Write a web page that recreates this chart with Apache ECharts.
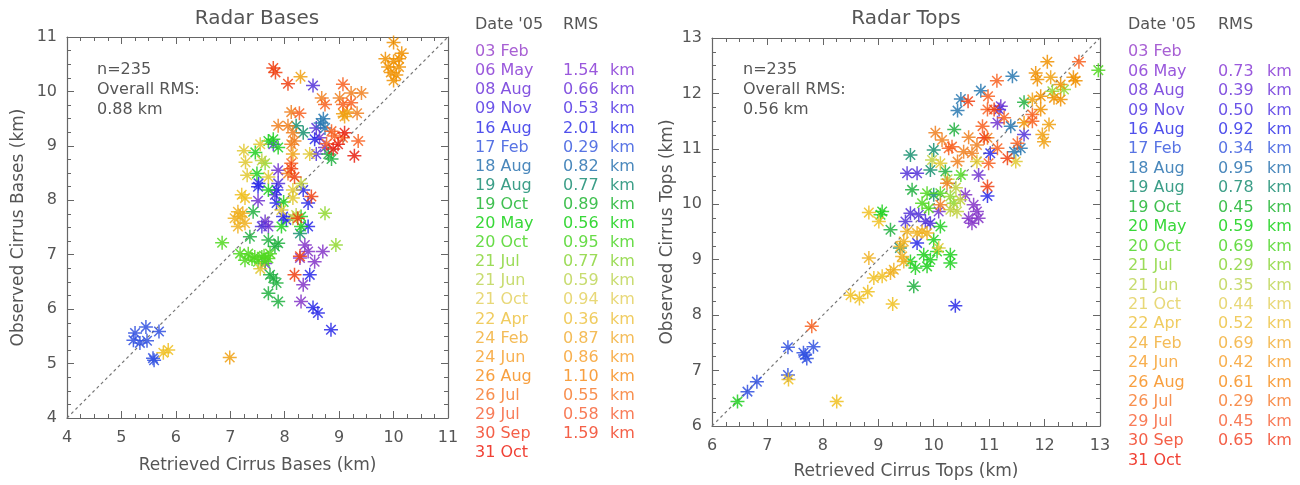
<!DOCTYPE html>
<html><head><meta charset="utf-8">
<script src="https://cdn.jsdelivr.net/npm/echarts@6/dist/echarts.min.js"></script>
<style>html,body{margin:0;padding:0;background:#fff}#c{width:1300px;height:485px}</style>
</head><body><div id="c"></div>
<script>
// ---------- DATA ----------
const dates = ['03 Feb','06 May','08 Aug','09 Nov','16 Aug','17 Feb','18 Aug','19 Aug','19 Oct','20 May','20 Oct','21 Jul','21 Jun','21 Oct','22 Apr','24 Feb','24 Jun','26 Aug','26 Jul','29 Jul','30 Sep','31 Oct'];
const rmsBases = ['','1.54','0.66','0.53','2.01','0.29','0.82','0.77','0.89','0.56','0.95','0.77','0.59','0.94','0.36','0.87','0.86','1.10','0.55','0.58','1.59',''];
const rmsTops  = ['','0.73','0.39','0.50','0.92','0.34','0.95','0.78','0.45','0.59','0.69','0.29','0.35','0.44','0.52','0.69','0.42','0.61','0.29','0.45','0.65',''];
const basesTicks = [4,5,6,7,8,9,10,11];
const topsTicks = [6,7,8,9,10,11,12,13];

// Radar Bases: [retrieved, observed] per date
const B_03Feb = [];
const B_06May = [[8.37,7.18],[8.43,7.06],[8.70,7.06],[8.55,6.87],[8.28,6.94],[8.34,6.45],[8.30,6.14]];
const B_08Aug = [[8.64,9.15],[8.74,8.97],[7.88,8.55],[7.51,7.99],[7.64,7.61],[7.70,7.52],[7.64,6.84]];
const B_09Nov = [[8.52,10.11],[8.58,9.33],[8.58,8.85],[7.79,9.03],[7.88,8.31],[7.82,8.10],[7.58,7.52]];
const B_16Aug = [[8.85,5.62],[8.61,5.93],[8.52,6.03],[8.46,6.63],[8.55,9.12],[7.52,8.31],[7.51,8.25],[7.85,8.19],[8.34,8.19],[8.43,7.95],[7.85,7.95],[7.97,7.70],[8.03,7.64],[8.43,7.52]];
const B_17Feb = [[5.25,5.56],[5.45,5.67],[5.69,5.59],[5.22,5.43],[5.34,5.38],[5.47,5.42],[5.60,5.06],[5.58,5.10]];
const B_18Aug = [[8.71,9.50],[8.74,9.33],[8.66,9.42]];
const B_19Aug = [[8.34,9.24],[8.21,9.37],[8.28,7.39]];
const B_19Oct = [[7.36,7.33],[7.70,7.27],[7.88,7.21],[7.82,7.15],[7.42,7.79],[7.73,6.63],[7.79,6.57],[7.85,6.48],[7.70,6.29],[7.88,6.14],[8.86,8.76],[8.80,8.85]];
const B_20May = [[7.79,9.12],[7.88,8.97],[7.70,9.09],[7.46,8.88],[7.49,8.49],[7.70,8.19],[7.98,7.97],[8.30,7.70],[8.30,7.52],[7.94,7.52]];
const B_20Oct = [[6.85,7.22],[7.18,7.02],[7.33,7.02],[7.27,6.90],[7.45,6.96],[7.58,6.96],[7.70,6.93],[7.73,7.02],[7.64,6.87],[7.51,6.87],[7.40,6.92],[7.62,6.98]];
const B_21Jul = [[7.64,8.68],[8.74,7.76],[8.94,7.18]];
const B_21Jun = [[7.58,8.73],[8.30,8.31],[8.15,7.67],[8.21,7.73]];
const B_21Oct = [[7.25,8.91],[7.28,8.70],[7.55,9.03],[7.31,8.46],[7.70,8.43],[8.15,8.19],[8.15,8.04],[8.46,8.85],[7.94,7.82],[7.55,6.74]];
const B_22Apr = [[5.77,5.20],[5.86,5.25],[7.21,8.10],[7.27,8.04]];
const B_24Feb = [[7.14,7.79],[7.23,7.76],[7.08,7.67],[7.27,7.58],[7.14,7.52],[7.18,7.70]];
const B_24Jun = [[8.29,10.27],[9.07,9.59],[9.10,9.54],[8.15,8.85],[6.99,5.11],[9.15,9.62]];
const B_26Aug = [[10.00,10.90],[10.15,10.70],[9.85,10.60],[10.00,10.55],[10.10,10.45],[9.95,10.35],[10.05,10.30],[10.00,10.20],[9.90,10.45],[10.10,10.60]];
const B_26Jul = [[9.22,9.97],[9.41,9.97],[9.01,9.88],[8.68,9.88],[9.33,9.60],[8.12,9.62],[7.88,9.37],[8.06,9.37],[8.15,9.24],[8.18,9.09],[8.12,9.03],[8.06,8.49]];
const B_29Jul = [[9.07,10.13],[9.07,9.76],[9.22,9.79],[8.74,9.76],[8.27,9.60],[8.86,9.27],[8.92,9.18],[9.07,9.15],[9.35,9.09],[8.77,9.04],[8.12,8.68]];
const B_30Sep = [[7.79,10.43],[7.83,10.35],[8.06,10.14],[8.28,6.97],[8.18,6.63],[8.12,8.58],[8.18,8.43],[8.24,7.67],[8.49,8.07]];
const B_31Oct = [[9.10,9.24],[8.98,9.03],[8.89,8.94],[9.28,8.82]];

// Radar Tops: [retrieved, observed] per date
const T_03Feb = [];
const T_06May = [[10.72,9.99],[10.78,9.87],[10.63,9.75],[10.81,9.75],[10.69,9.66],[10.57,10.17]];
const T_08Aug = [[11.21,11.77],[11.15,11.47],[10.81,10.53],[10.09,9.87]];
const T_09Nov = [[11.18,11.71],[11.63,11.26],[9.52,10.56],[9.70,10.56],[9.58,9.84],[9.49,9.69],[9.73,9.81],[9.85,9.69],[9.94,9.66]];
const T_16Aug = [[10.39,8.17],[10.97,10.15],[9.70,9.30],[11.02,10.92]];
const T_17Feb = [[7.37,7.42],[7.83,7.43],[7.71,7.22],[7.68,7.28],[7.37,6.92],[6.81,6.80],[6.64,6.62],[7.65,7.32]];
const T_18Aug = [[11.42,12.31],[10.85,12.05],[10.49,11.90],[10.43,11.69],[11.39,11.41],[11.45,10.95],[11.57,11.01]];
const T_19Aug = [[9.58,10.89],[10.00,10.98],[9.94,10.62],[10.00,10.17],[9.39,9.21]];
const T_19Oct = [[11.63,11.84],[10.37,11.35],[10.21,10.59],[9.61,10.26],[9.22,9.54],[9.64,8.52]];
const T_20May = [[6.46,6.44],[9.07,9.87],[9.04,9.81],[10.12,9.60],[10.00,9.36],[10.06,9.15],[9.82,9.09],[9.94,9.00],[9.58,8.97],[9.67,8.85],[9.88,8.88],[10.30,9.09],[10.30,8.94]];
const T_20Oct = [[12.97,12.42],[10.49,10.53],[9.88,10.20],[10.12,10.20],[9.79,10.02],[9.91,9.93]];
const T_21Jul = [[12.35,12.07],[12.14,12.04],[10.30,10.14],[10.36,10.02]];
const T_21Jun = [[10.48,10.08],[10.30,9.90],[10.42,9.87],[9.97,10.80],[10.40,10.30],[10.25,10.45]];
const T_21Oct = [[11.48,10.77],[10.78,10.77],[10.12,10.74],[10.09,9.21]];
const T_22Apr = [[8.25,6.44],[7.38,6.84],[8.50,8.36],[8.66,8.30],[8.81,8.42],[9.26,8.20],[8.92,8.67],[9.07,8.70],[8.83,9.85],[9.01,9.69]];
const T_24Feb = [[9.28,8.82],[9.22,8.76],[8.83,9.03],[9.43,9.06],[9.46,8.97],[9.52,9.51],[9.70,9.48],[9.79,9.51],[9.88,9.48],[9.46,9.33],[9.40,9.24]];
const T_24Jun = [[12.11,12.29],[11.78,11.89],[12.08,11.44],[11.96,11.26],[11.99,11.13]];
const T_26Aug = [[12.05,12.57],[11.84,12.37],[11.87,12.25],[12.52,12.29],[12.56,12.23],[11.93,11.95],[12.29,12.16],[12.17,11.92],[12.29,11.89],[11.93,11.71],[11.63,11.47]];
const T_26Jul = [[10.97,11.20],[10.03,11.29],[10.15,11.16],[10.63,11.21],[10.78,11.07],[10.54,10.95],[10.69,10.92],[10.43,10.77],[10.12,9.99],[10.24,10.38]];
const T_29Jul = [[12.62,12.57],[11.14,12.23],[10.98,11.95],[10.97,11.71],[11.78,11.62],[11.78,11.50],[11.27,11.56],[10.88,11.41],[10.27,11.01],[10.33,11.04],[11.51,11.10],[10.99,10.74],[11.15,11.01],[7.80,7.80]];
const T_30Sep = [[10.62,11.86],[11.09,11.71],[10.91,11.20],[11.33,10.83],[10.97,10.32]];
const T_31Oct = [];

const basesSets = [B_03Feb,B_06May,B_08Aug,B_09Nov,B_16Aug,B_17Feb,B_18Aug,B_19Aug,B_19Oct,B_20May,B_20Oct,B_21Jul,B_21Jun,B_21Oct,B_22Apr,B_24Feb,B_24Jun,B_26Aug,B_26Jul,B_29Jul,B_30Sep,B_31Oct];
const topsSets  = [T_03Feb,T_06May,T_08Aug,T_09Nov,T_16Aug,T_17Feb,T_18Aug,T_19Aug,T_19Oct,T_20May,T_20Oct,T_21Jul,T_21Jun,T_21Oct,T_22Apr,T_24Feb,T_24Jun,T_26Aug,T_26Jul,T_29Jul,T_30Sep,T_31Oct];

// ---------- STYLE ----------
const markerColors = ['#9040c0','#8434c8','#7032d0','#5432d8','#2828e8','#3050e0','#2878b0','#189070','#20b040','#20d020','#50d820','#90d830','#c0d040','#e0c830','#f0c020','#f0b020','#f0a010','#f09000','#f08020','#f86020','#f04010','#e82010'];
const textColors   = ['#a860d4','#9a58dc','#8454e0','#6c54e8','#5050ec','#5874e4','#4a88bc','#3c9e88','#40c050','#38d838','#68dc48','#9cdc58','#c8dc70','#e8d878','#f0cc60','#f4bc58','#f8b050','#f8a040','#f89050','#f87c58','#f46048','#f04034'];
const FONT = '"DejaVu Sans", Arial, sans-serif';
const GRAY = '#555';
const STAR = 'path://M5,0L5,10M0,5L10,5M1.6,1.6L8.4,8.4M8.4,1.6L1.6,8.4';

const grids = [
  {left:67, top:37, width:381, height:381},
  {left:712, top:38, width:388, height:388}
];

function axisCommon(min,max,extra){
  return Object.assign({
    type:'value', min:min, max:max, interval:1,
    axisLine:{show:true, onZero:false, lineStyle:{color:'#666', width:1.2}},
    axisTick:{show:true, inside:true, length:7, lineStyle:{color:'#666', width:1}},
    minorTick:{show:true, splitNumber:4, length:4, lineStyle:{color:'#666', width:1}},
    splitLine:{show:false}, minorSplitLine:{show:false},
    axisLabel:{show:true, color:GRAY, fontSize:16, fontFamily:FONT, margin:12},
    nameTextStyle:{color:GRAY, fontSize:17, fontFamily:FONT}
  }, extra);
}

const xAxes = [
  axisCommon(basesTicks[0], basesTicks[basesTicks.length-1], {gridIndex:0, position:'bottom', name:'Retrieved Cirrus Bases (km)', nameLocation:'middle', nameGap:39}),
  axisCommon(basesTicks[0], basesTicks[basesTicks.length-1], {gridIndex:0, position:'top', axisLabel:{show:false}}),
  axisCommon(topsTicks[0], topsTicks[topsTicks.length-1], {gridIndex:1, position:'bottom', name:'Retrieved Cirrus Tops (km)', nameLocation:'middle', nameGap:37}),
  axisCommon(topsTicks[0], topsTicks[topsTicks.length-1], {gridIndex:1, position:'top', axisLabel:{show:false}})
];
const yAxes = [
  axisCommon(basesTicks[0], basesTicks[basesTicks.length-1], {gridIndex:0, position:'left', name:'Observed Cirrus Bases (km)', nameLocation:'middle', nameGap:40, axisLabel:{color:GRAY, fontSize:16, fontFamily:FONT, margin:10}}),
  axisCommon(basesTicks[0], basesTicks[basesTicks.length-1], {gridIndex:0, position:'right', axisLabel:{show:false}}),
  axisCommon(topsTicks[0], topsTicks[topsTicks.length-1], {gridIndex:1, position:'left', name:'Observed Cirrus Tops (km)', nameLocation:'middle', nameGap:36, axisLabel:{color:GRAY, fontSize:16, fontFamily:FONT, margin:10}}),
  axisCommon(topsTicks[0], topsTicks[topsTicks.length-1], {gridIndex:1, position:'right', axisLabel:{show:false}})
];

const series = [];
function addDiag(ticks, xi, yi){
  const a = ticks[0], b = ticks[ticks.length-1];
  series.push({type:'line', xAxisIndex:xi, yAxisIndex:yi, data:[[a,a],[b,b]], symbol:'none', silent:true,
    lineStyle:{color:'#777', width:1.2, type:[3,3]}, z:1});
}
addDiag(basesTicks,0,0);
addDiag(topsTicks,2,2);
function addSets(sets, xi, yi){
  sets.forEach((pts,i)=>{
    series.push({type:'scatter', name:dates[i], xAxisIndex:xi, yAxisIndex:yi, data:pts,
      symbol:STAR, symbolSize:14, silent:true, z:2,
      itemStyle:{color:'rgba(0,0,0,0)', borderColor:markerColors[i], borderWidth:1.5, opacity:0.85}});
  });
}
addSets(basesSets,0,0);
addSets(topsSets,2,2);

// ---------- TEXT ----------
const graphic = [];
function txt(x,y,s,color,size,align){
  graphic.push({type:'text', x:x, y:y, silent:true,
    style:{text:s, fill:color, font:size+'px '+FONT, textAlign:align||'left', textVerticalAlign:'middle', align:align||'left', verticalAlign:'middle'}});
}
txt(257,19,'Radar Bases',GRAY,20,'center');
txt(906,19,'Radar Tops',GRAY,20,'center');
txt(97,70,'n=235',GRAY,16); txt(97,90,'Overall RMS:',GRAY,16); txt(97,110,'0.88 km',GRAY,16);
txt(743,70,'n=235',GRAY,16); txt(743,90,'Overall RMS:',GRAY,16); txt(743,110,'0.56 km',GRAY,16);

function legendCol(xDate, xRms, xKm, y0, step, rms){
  txt(xDate, y0-27, "Date '05", GRAY, 16);
  txt(xRms, y0-27, 'RMS', GRAY, 16);
  dates.forEach((d,i)=>{
    const y = y0 + i*step;
    txt(xDate, y, d, textColors[i], 16);
    if (rms[i]) { txt(xRms, y, rms[i], textColors[i], 16); txt(xKm, y, 'km', textColors[i], 16); }
  });
}
legendCol(475, 563, 610, 52, 19.1, rmsBases);
legendCol(1128, 1218, 1267, 52, 19.45, rmsTops);

const chart = echarts.init(document.getElementById('c'), null, {renderer:'canvas'});
chart.setOption({
  animation:false, backgroundColor:'#fff',
  grid:grids, xAxis:xAxes, yAxis:yAxes, series:series, graphic:graphic
});
</script></body></html>
